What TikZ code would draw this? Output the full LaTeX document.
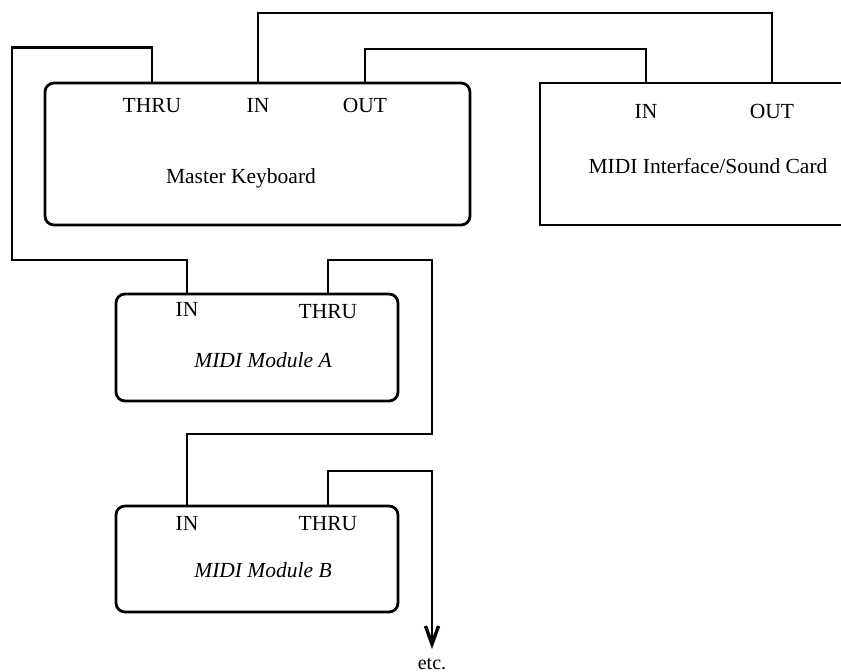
\documentclass[tikz,border=0pt]{standalone}
\usepackage{fontspec}
\setmainfont{Liberation Serif}
\usetikzlibrary{arrows.meta}
\begin{document}
\begin{tikzpicture}[x=1pt,y=-1pt,
  wire/.style={line width=2.8pt,line join=miter},
  unit/.style={draw,line width=2.8pt,rounded corners=9pt,inner sep=0pt},
  plainunit/.style={draw,line width=2.8pt,inner sep=0pt},
  port/.style={anchor=base,inner sep=0pt,font=\fontsize{21.5}{25}\selectfont},
  title/.style={anchor=base,inner sep=0pt,font=\fontsize{21.5}{25}\selectfont},
  ititle/.style={anchor=base,inner sep=0pt,font=\fontsize{21.5}{25}\selectfont\itshape}]
\useasboundingbox (0,0) rectangle (841,672);

% devices
\node[unit,minimum width=425pt,minimum height=142pt] (kbd) at (257.5,154) {};
\node[plainunit,minimum width=320pt,minimum height=142pt] (mi) at (700,154) {};
\node[unit,minimum width=282pt,minimum height=107pt] (ma) at (257,347.5) {};
\node[unit,minimum width=282pt,minimum height=106pt] (mb) at (257,559) {};

% device labels
\node[port] (kthru) at (152,112) {THRU};
\node[port] (kin) at (258,112) {IN};
\node[port] (kout) at (365,112) {OUT};
\node[title] (ktitle) at (241,183) {Master Keyboard};

\node[port] (min) at (646,118) {IN};
\node[port] (mout) at (772,118) {OUT};
\node[title] (mtitle) at (708,173) {MIDI Interface/Sound Card};

\node[port] (ain) at (187,316) {IN};
\node[port] (athru) at (328,318) {THRU};
\node[ititle] (atitle) at (263,367) {MIDI Module A};

\node[port] (bin) at (187,530) {IN};
\node[port] (bthru) at (328,530) {THRU};
\node[ititle] (btitle) at (263,577) {MIDI Module B};

\node[anchor=base,inner sep=0pt,font=\fontsize{20}{23}\selectfont] (etc) at (432,669) {etc.};

% routing points
\coordinate (loopL) at (12,260);
\coordinate (topA) at (500,13);
\coordinate (topB) at (500,49);
\coordinate (rA) at (432,260);
\coordinate (rB) at (300,434);
\coordinate (rC) at (432,471);
\coordinate (tip) at (432,649);

% connections
\draw[wire] (kbd.north -| kthru) -- ++(0,-34) -| (loopL) -| (ma.north -| ain);
\draw[wire] (kbd.north -| kin) |- (topA) -| (mi.north -| mout);
\draw[wire] (kbd.north -| kout) |- (topB) -| (mi.north -| min);
\draw[wire] (ma.north -| athru) |- (rA) |- (rB) -| (mb.north -| bin);
\draw[wire,-{Straight Barb[length=18pt,width=13pt,line width=3.4pt]}] (mb.north -| bthru) |- (rC) -- (tip);
\end{tikzpicture}
\end{document}
